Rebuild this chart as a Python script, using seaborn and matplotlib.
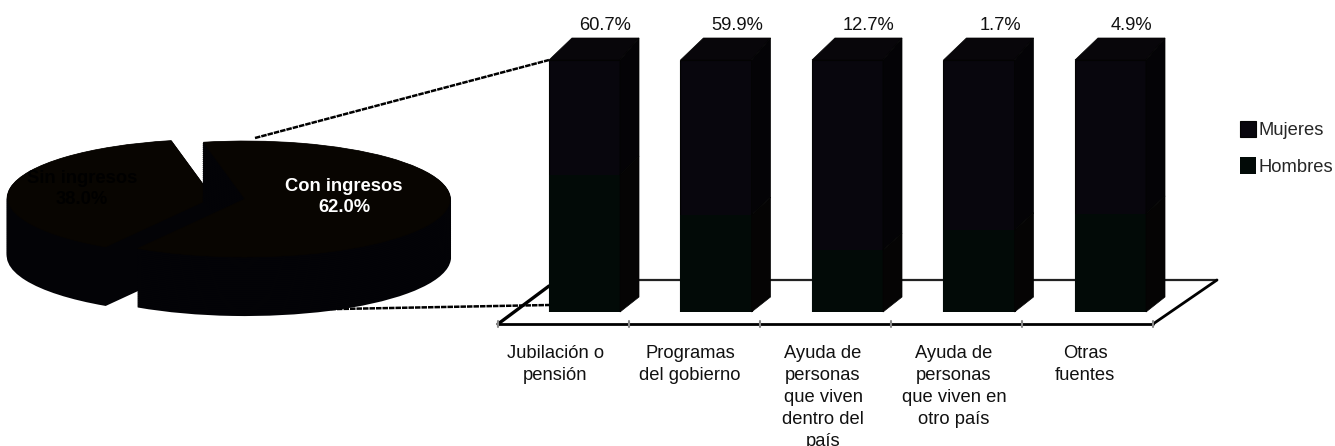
import numpy as np
import pandas as pd
import matplotlib
matplotlib.use("Agg")
import matplotlib.pyplot as plt
import seaborn as sns
from matplotlib.patches import Polygon

# donnees
pie_labels = ["Con ingresos", "Sin ingresos"]
pie_values = [62.0, 38.0]
categories = ["Jubilación o\npensión", "Programas\ndel gobierno",
              "Ayuda de\npersonas\nque viven\ndentro del\npaís",
              "Ayuda de\npersonas\nque viven en\notro país", "Otras\nfuentes"]
totals = [60.7, 59.9, 12.7, 1.7, 4.9]
hombres = [54.4, 38.5, 24.6, 32.5, 39.0]
mujeres = [100 - h for h in hombres]

W, H = 1335, 446
FS = 13.2
sns.set_style("white")
plt.rcParams["font.family"] = ["Liberation Sans", "DejaVu Sans"]

fig = plt.figure(figsize=(W / 100, H / 100), dpi=100)
fig.patch.set_facecolor("white")


def px_axes(z):
    a = fig.add_axes([0, 0, 1, 1], zorder=z)
    a.patch.set_alpha(0)
    a.set_axis_off()
    return a


# plancher et lignes de rappel, en pixels
ax_px = px_axes(0)
ax_px.set_xlim(0, W)
ax_px.set_ylim(H, 0)
ax_px.plot([557, 1217], [280, 280], color="#222222", lw=1.6)
ax_px.plot([1217, 1153], [280, 324], color="black", lw=2)
ax_px.plot([498, 1153], [324, 324], color="black", lw=2)
ax_px.plot([498, 549], [324, 286], color="black", lw=2.4)
for tx in np.linspace(498, 1153, 6):
    ax_px.plot([tx, tx], [321, 327], color="#888888", lw=1.5)
ax_px.plot([255, 549], [138, 60], color="black", lw=1.8, ls=(0, (2.2, 0.4)))
ax_px.plot([285, 549], [310, 305], color="black", lw=1.8, ls=(0, (2.2, 0.4)))

# pastel en fausse 3D : copies decalees vers le bas
cx, cy, rx, ry = 245, 199, 205, 58
ax_pie = px_axes(2)
depth = 58 / ry
for d in np.linspace(depth, 0.02, 30):
    wed, _ = ax_pie.pie(pie_values, startangle=101.7, counterclock=False, explode=(0, 0.16),
                        center=(0, -d), colors=["#02020a", "#040306"], radius=1, frame=False,
                        wedgeprops=dict(lw=1.5, edgecolor="#030306"))
    wed[0].set_zorder(3)
    wed[1].set_zorder(1)
wed, _ = ax_pie.pie(pie_values, startangle=101.7, counterclock=False, explode=(0, 0.16),
                    center=(0, 0), colors=["#080501", "#080501"], radius=1, frame=False,
                    wedgeprops=dict(lw=0.5, edgecolor="#080501"))
wed[0].set_zorder(4)
wed[1].set_zorder(2)
ax_pie.set_aspect("auto")
ax_pie.set_xlim((0 - cx) / rx, (W - cx) / rx)
ax_pie.set_ylim((cy - H) / ry, cy / ry)
ax_pie.set_axis_off()

# barres empilees
ax = fig.add_axes([518.75 / W, (H - 312) / H, 657.5 / W, 252 / H], zorder=3)
ax.patch.set_alpha(0)
df = pd.DataFrame({"cat": categories, "mujeres": mujeres, "hombres": hombres})
df["total"] = df["mujeres"] + df["hombres"]
sns.barplot(data=df, x="cat", y="total", color="#08060d", saturation=1, width=0.54,
            label="Mujeres", ax=ax, edgecolor="#030303", linewidth=0.8)
n_m = len(ax.patches)
sns.barplot(data=df, x="cat", y="hombres", color="#020a07", saturation=1, width=0.54,
            label="Hombres", ax=ax, edgecolor="none", linewidth=0)
ax.set_xlim(-0.5, 4.5)
ax.set_ylim(0, 100)
ax.set_axis_off()

dx = 19 / 131.5
dy_top = 22 / 2.52
dy_bot = 15 / 2.52
bars = list(ax.patches)
for b, b2, tot in zip(bars[:n_m], bars[n_m:], totals):
    x0, x1 = b.get_x(), b.get_x() + b.get_width()
    top, split = b.get_height(), b2.get_height()
    frac = split / top
    split_dy = dy_bot + (dy_top - dy_bot) * frac
    ax.add_patch(Polygon([(x0, top), (x0 + dx + 0.03, top + dy_top), (x1 + dx, top + dy_top), (x1, top)],
                         fc="#08060a", ec="#030303", lw=0.5, clip_on=False, zorder=3))
    ax.add_patch(Polygon([(x1, split), (x1 + dx, split + split_dy), (x1 + dx, top + dy_top), (x1, top)],
                         fc="#040306", ec="#030303", lw=0.5, clip_on=False, zorder=3))
    ax.add_patch(Polygon([(x1, 0), (x1 + dx, dy_bot), (x1 + dx, split + split_dy), (x1, split)],
                         fc="#050404", ec="#030303", lw=0.5, clip_on=False, zorder=3))
    ax.text((x0 + x1) / 2 + 0.16, 100 + 13.6, f"{tot}%", ha="center", va="center",
            fontsize=FS, color="#111111", clip_on=False)

handles, labels = ax.get_legend_handles_labels()
ax.legend(handles, labels, loc="upper left", bbox_to_anchor=(1240 / W, (H - 121) / H),
          bbox_transform=fig.transFigure, frameon=False, fontsize=FS, handlelength=0.88,
          handleheight=1.0, handletextpad=0.12, labelspacing=0.98, borderpad=0, borderaxespad=0)

# textes
ax_txt = px_axes(5)
ax_txt.set_xlim(0, W)
ax_txt.set_ylim(H, 0)
ax_txt.text(344, 197, f"{pie_labels[0]}\n{pie_values[0]}%", ha="center", va="center", fontsize=FS,
            fontweight="bold", color="white", linespacing=1.3)
ax_txt.text(82, 189, f"{pie_labels[1]}\n{pie_values[1]}%", ha="center", va="center", fontsize=FS,
            fontweight="bold", color="black", linespacing=1.3)
for c, lab in zip([555.5, 690, 823, 954, 1085], categories):
    ax_txt.text(c, 345, lab, ha="center", va="top", fontsize=FS, color="#111111",
                linespacing=1.38, multialignment="center")

fig.savefig("out.png", dpi=100)
